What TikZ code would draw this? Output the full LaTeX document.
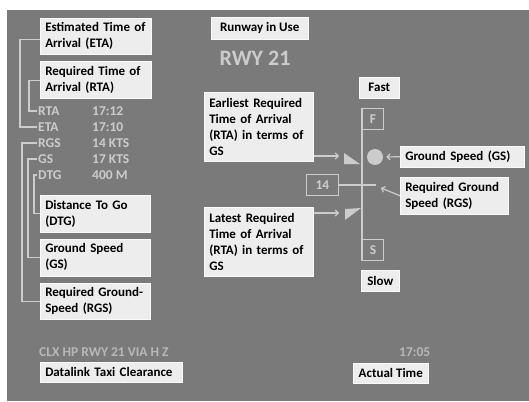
\documentclass[tikz,border=0pt]{standalone}
\usepackage{fontspec}
\setmainfont{Carlito}
\usetikzlibrary{arrows.meta, positioning, calc}

\definecolor{panel}{RGB}{122,122,122}
\definecolor{tagfill}{RGB}{237,237,237}
\definecolor{tagedge}{RGB}{250,250,250}
\definecolor{paleink}{RGB}{204,204,204}
\definecolor{dimink}{RGB}{184,184,184}

\begin{document}
\begin{tikzpicture}[
      x=1pt, y=-1pt,
      tag/.style     ={rectangle, draw=tagedge, line width=0.5pt, fill=tagfill, text=black, anchor=north west,
                       align=left, inner xsep=5pt, inner ysep=2pt, font=\fontsize{13}{16}\selectfont\bfseries},
      readout/.style ={text=paleink, anchor=west, inner sep=1pt, font=\fontsize{13.5}{15}\selectfont\bfseries},
      scalebox/.style={rectangle, draw=paleink, line width=0.9pt, text=paleink, anchor=north west, inner sep=0pt,
                       minimum width=21pt, minimum height=21pt, font=\fontsize{13.5}{15}\selectfont\bfseries},
      link/.style    ={draw=paleink, line width=1.2pt},
      pointer/.style ={link, -{Straight Barb[length=3pt]}}
    ]

    \useasboundingbox (0,0) rectangle (529,401);
    \fill[panel] (7,10) rectangle (529,401);

    % Etiketter til venstre
    \node[tag, text width=101pt, minimum height=36pt] (etabox) at (40,18) {Estimated Time of\\Arrival (ETA)};
    \node[tag, text width=101pt, minimum height=37pt, below=7pt of etabox.south west, anchor=north west] (rtabox) {Required Time of\\Arrival (RTA)};
    \node[tag, text width=100pt, minimum height=37pt] (dtgbox) at (40,195) {Distance To Go\\(DTG)};
    \node[tag, text width=100pt, minimum height=37pt, below=6pt of dtgbox.south west, anchor=north west] (gsbox) {Ground Speed\\(GS)};
    \node[tag, text width=100pt, minimum height=36pt, below=7pt of gsbox.south west, anchor=north west] (rgsbox) {Required Ground-\\Speed (RGS)};

    % Avlesninger
    \foreach \key/\txt/\val/\y in {rta/RTA/17:12/111, eta/ETA/17:10/127, rgs/RGS/14 KTS/143, gs/GS/17 KTS/159, dtg/DTG/400 M/175}{
      \node[readout] (\key-name) at (37,\y) {\txt};
      \node[readout] (\key-val)  at (91,\y) {\val};
    }

    % Klammer fra etikett til avlesning
    \draw[link] ([yshift=-3pt]etabox.west) -- ++(-20,0) |- (eta-name.west);
    \draw[link] (rtabox.west) -- ++(-11,0) |- (rta-name.west);
    \draw[link] (rgsbox.west) -- ++(-18,0) |- (rgs-name.west);
    \draw[link] (gsbox.west)  -- ++(-12,0) |- (gs-name.west);
    \draw[link] (dtgbox.west) -- ++(-6,0)  |- (dtg-name.west);

    % Rullebane
    \node[tag, minimum width=97pt, minimum height=22pt] (runway) at (211,17) {Runway in Use};
    \node[text=paleink, font=\fontsize{22}{24}\selectfont\bfseries] (rwy) at (255,58) {RWY 21};

    % RTA-grenser
    \node[tag, text width=99pt, minimum height=69pt] (earliest) at (204,92)  {Earliest Required\\Time of Arrival\\(RTA) in terms of\\GS};
    \node[tag, text width=99pt, minimum height=69pt] (latest)   at (204,207) {Latest Required\\Time of Arrival\\(RTA) in terms of\\GS};
    \coordinate (upmark)  at (339,156);
    \coordinate (lowmark) at (339,213);
    \draw[pointer] (earliest.east |- upmark) -- (upmark);
    \draw[pointer] (latest.east |- lowmark)  -- (lowmark);
    \fill[paleink] (344,153) -- (344,164) -- (360,164) -- cycle;
    \fill[paleink] (345,209) -- (361,208) -- (345,220) -- cycle;

    % Hastighetsskala
    \node[scalebox] (fbox) at (362,108) {F};
    \node[scalebox] (sbox) at (362,239) {S};
    \draw[link] (fbox.north west) -- (sbox.south west);
    \node[tag, minimum width=40pt, minimum height=21pt] (fast) at (359,77)  {Fast};
    \node[tag, minimum width=38pt, minimum height=21pt] (slow) at (361,270) {Slow};

    % Bakkehastighet
    \node[circle, fill=paleink, minimum size=16pt, inner sep=0pt] (gsdot) at (375,157) {};
    \node[tag, text width=114pt, minimum height=21pt] (gstag) at (400,146) {Ground Speed (GS)};
    \draw[pointer, shorten >=3pt] (gstag.west) -- (gsdot.east);

    % Påkrevd bakkehastighet
    \node[scalebox, minimum width=32pt] (rgsvalue) at (306,174) {14};
    \draw[link] (rgsvalue.east) -- ++(37,0) coordinate (rgsmark);
    \node[tag, text width=98pt, minimum height=37pt] (rgstag) at (400,177) {Required Ground\\Speed (RGS)};
    \draw[pointer] (rgstag.west) -- ([shift={(5,3)}]rgsmark);

    % Nederst
    \node[readout, text=dimink] (clearance) at (38,352) {CLX HP RWY 21 VIA H Z};
    \node[tag, text width=132pt, minimum height=20pt] (datalink) at (40,362) {Datalink Taxi Clearance};
    \node[readout, text=dimink] (clock) at (398,352) {17:05};
    \node[tag, minimum width=75pt, minimum height=20pt] (actual) at (353,363) {Actual Time};

  \end{tikzpicture}
\end{document}
